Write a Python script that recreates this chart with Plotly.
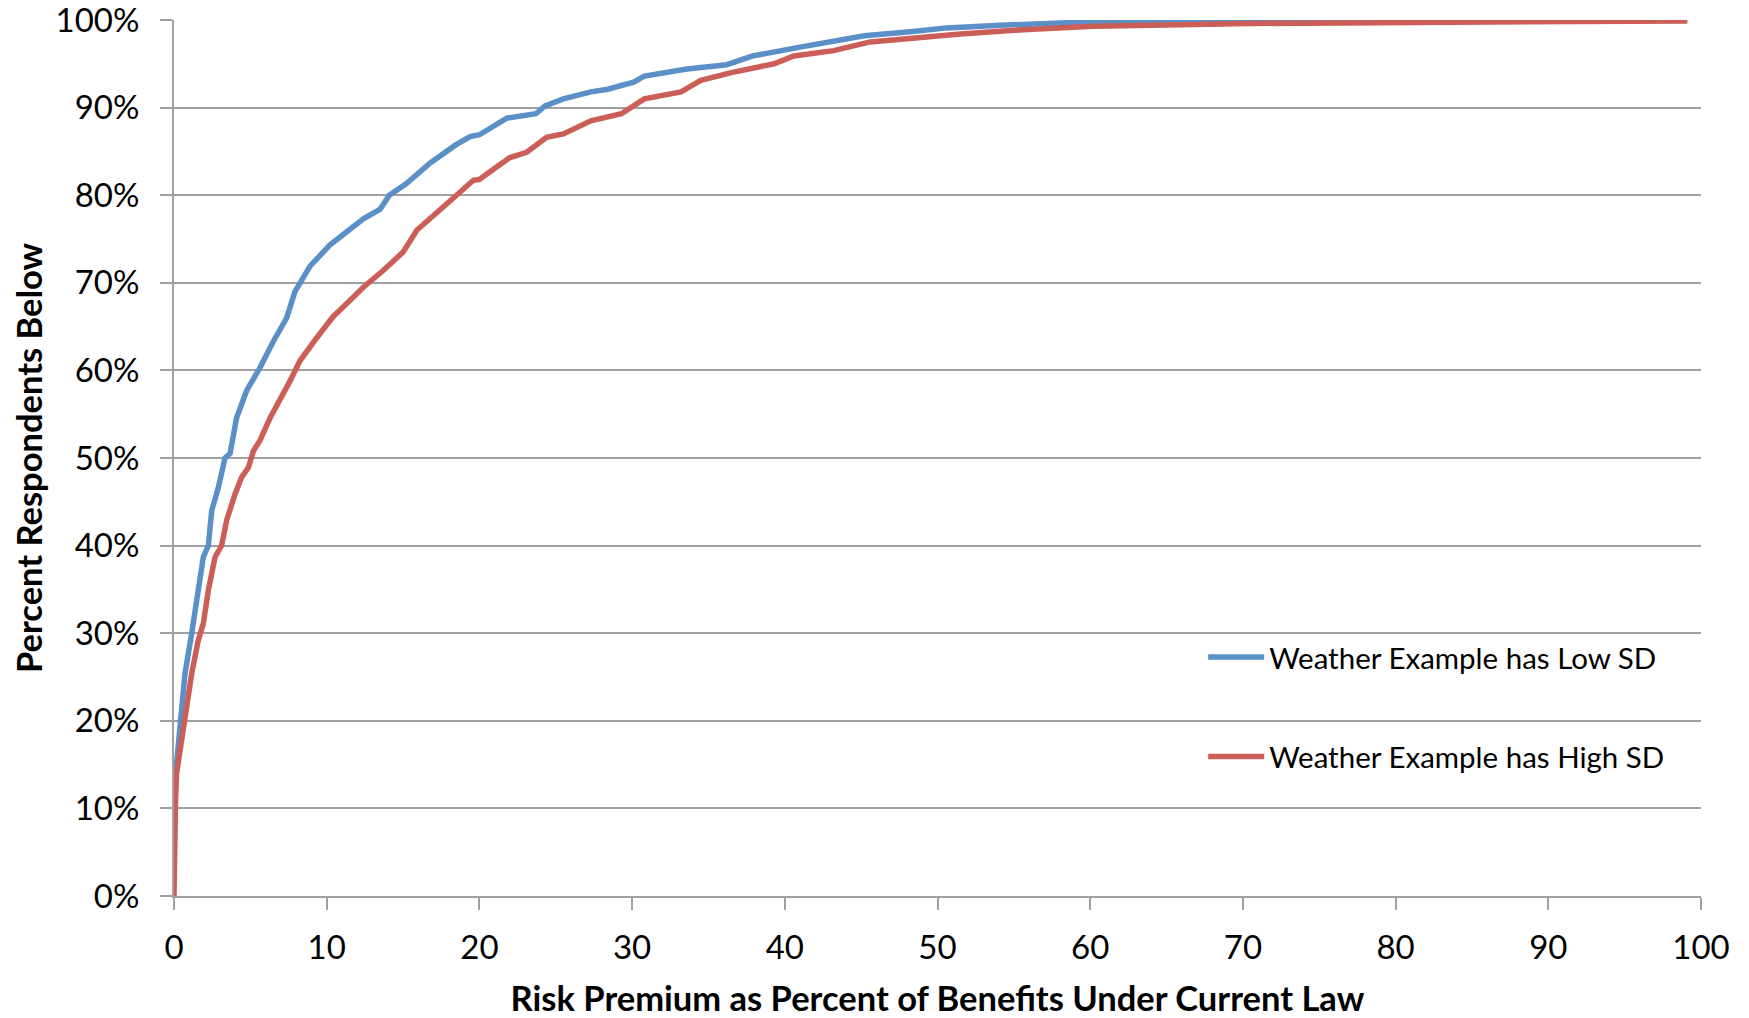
import plotly.graph_objects as go

# Risk premium (% of benefits) and cumulative percent of respondents below
low_sd_x = [0, 0.1, 0.39, 0.72, 1.16, 1.59, 1.92, 2.25, 2.47, 2.9, 3.34, 3.67, 4.1, 4.76,
            5.63, 6.5, 7.38, 7.92, 8.91, 10.2, 11.1, 12.4, 13.5, 14.1, 15.2, 16.8, 18.5,
            19.4, 20.0, 20.9, 21.8, 23.7, 24.3, 25.5, 27.3, 28.4, 30.1, 30.8, 33.6, 36.2,
            37.9, 41.0, 45.2, 48.4, 50.6, 54.1, 57.4, 60.2, 65.0, 70.5, 80.0, 90.0, 99.1]
low_sd_y = [12, 14, 20, 25.4, 30, 35.3, 38.7, 40, 44, 46.6, 50, 50.5, 54.6, 57.7,
            60.3, 63.3, 66, 69, 71.9, 74.3, 75.5, 77.3, 78.4, 80, 81.3, 83.7, 85.8,
            86.7, 86.9, 87.9, 88.8, 89.3, 90.2, 91.0, 91.8, 92.1, 92.9, 93.6, 94.4, 94.9,
            95.9, 96.9, 98.2, 98.7, 99.1, 99.4, 99.6, 99.8, 99.9, 100, 100, 100, 100]

high_sd_x = [0, 0.02, 0.1, 0.17, 0.5, 0.83, 1.16, 1.59, 1.92, 2.25, 2.69, 3.12, 3.45, 4.0,
             4.43, 4.87, 5.2, 5.63, 6.3, 7.6, 8.25, 9.34, 10.4, 11.3, 12.4, 13.7, 15.0,
             15.9, 17.2, 18.5, 19.6, 20.0, 21.1, 22.0, 23.1, 24.4, 25.5, 27.3, 29.3, 30.8,
             33.2, 34.5, 36.5, 39.3, 40.6, 43.2, 45.6, 48.4, 51.5, 55.6, 60.2, 70.5, 83.6, 99.1]
high_sd_y = [0, 6, 11, 14, 17.8, 21.6, 25.4, 29.2, 31.1, 34.9, 38.7, 40, 42.9, 45.9,
             47.8, 48.9, 50.8, 52, 54.6, 58.8, 61.1, 63.7, 66.1, 67.6, 69.5, 71.4, 73.5,
             76, 77.9, 80, 81.7, 81.8, 83.2, 84.3, 84.9, 86.6, 87.0, 88.5, 89.3, 91.0,
             91.8, 93.1, 94.0, 95.0, 95.9, 96.5, 97.5, 98.0, 98.4, 98.9, 99.3, 99.6, 99.8, 99.9]

series_names = ["Weather Example has Low SD", "Weather Example has High SD"]
x_ticks = list(range(0, 101, 10))
y_ticks = list(range(0, 101, 10))
x_title = "Risk Premium as Percent of Benefits Under Current Law"
y_title = "Percent Respondents Below"

FONT = "Lato, 'Open Sans', sans-serif"
GRID = "#A0A0A0"

fig = go.Figure()
fig.add_trace(go.Scatter(x=low_sd_x, y=low_sd_y, mode="lines", name=series_names[0],
                         legendgroup="a",
                         line=dict(color="#5A8FC8", width=5.5)))
fig.add_trace(go.Scatter(x=high_sd_x, y=high_sd_y, mode="lines", name=series_names[1],
                         legendgroup="b",
                         line=dict(color="#CB5F58", width=5.5)))

fig.update_layout(
    width=1749, height=1018,
    margin=dict(l=174, r=48, t=20, b=122),
    paper_bgcolor="white", plot_bgcolor="white",
    font=dict(family=FONT, size=33, color="black"),
    showlegend=True,
    legend=dict(x=0.674, y=0.302, xanchor="left", yanchor="top",
                bgcolor="rgba(0,0,0,0)", font=dict(size=29.5),
                traceorder="grouped", tracegroupgap=58, itemwidth=56),
    xaxis=dict(range=[0, 100], tickvals=x_ticks, ticktext=[str(v) for v in x_ticks],
               showgrid=False, zeroline=False, showline=True, linecolor=GRID, linewidth=2,
               ticks="outside", ticklen=12, tickwidth=2, tickcolor=GRID,
               ticklabelstandoff=9, automargin=False, ticklabeloverflow="allow",
               title=dict(text=f"<b>{x_title}</b>", font=dict(size=34.5), standoff=25)),
    yaxis=dict(range=[0, 100], tickvals=y_ticks, ticktext=[f"{v}%" for v in y_ticks],
               showgrid=True, gridcolor=GRID, gridwidth=2, zeroline=False,
               showline=True, linecolor=GRID, linewidth=2,
               ticks="outside", ticklen=12, tickwidth=2, tickcolor=GRID,
               ticklabelstandoff=14, automargin=False, ticklabeloverflow="allow"),
    annotations=[dict(text=f"<b>{y_title}</b>", xref="paper", yref="paper",
                      x=-0.0956, y=0.5, xanchor="center", yanchor="middle",
                      textangle=-90, showarrow=False, font=dict(size=34.5))],
)

fig.write_html("out.html", config={"displayModeBar": False},
               post_script="document.body.style.margin='0';document.body.style.padding='0';")
